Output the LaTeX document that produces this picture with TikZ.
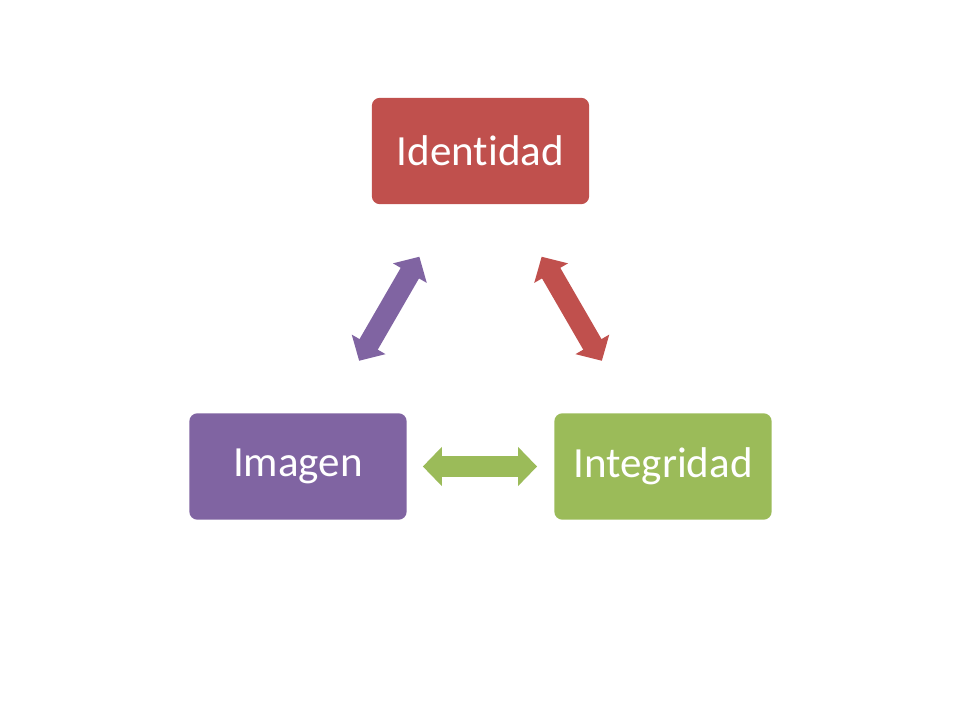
\documentclass[tikz,border=0pt]{standalone}
\usepackage{fontspec}
\setmainfont{Carlito}[Ligatures=NoCommon]
\usetikzlibrary{arrows.meta,calc}
\definecolor{IdenClr}{HTML}{C0504D}
\definecolor{ImagClr}{HTML}{8064A2}
\definecolor{IntegClr}{HTML}{9BBB59}

\begin{document}
\begin{tikzpicture}[x=0.025cm,y=-0.025cm,
  box/.style={rounded corners=0.2cm,minimum width=5.43cm,minimum height=2.66cm,
    text=white,font=\fontsize{30.6}{36}\selectfont},
  twoway/.style={line width=15pt,{Triangle[length=13.5pt,width=27pt]}-{Triangle[length=13.5pt,width=27pt]}}]
\useasboundingbox (0,0) rectangle (960,720);

\node[box,fill=IdenClr] (iden) at (480.5,151) {Identidad};
\node[box,fill=ImagClr] (imag) at (298,466.5) {Imagen};
\node[box,fill=IntegClr] (integ) at (663,466.5) {Integridad};

\draw[twoway,IdenClr] ($(iden)!0.335!(integ)$) -- ($(iden)!0.665!(integ)$);
\draw[twoway,ImagClr] ($(imag)!0.335!(iden)$) -- ($(imag)!0.665!(iden)$);
\draw[twoway,IntegClr] ($(imag)!0.342!(integ)$) -- ($(imag)!0.655!(integ)$);

\end{tikzpicture}
\end{document}
